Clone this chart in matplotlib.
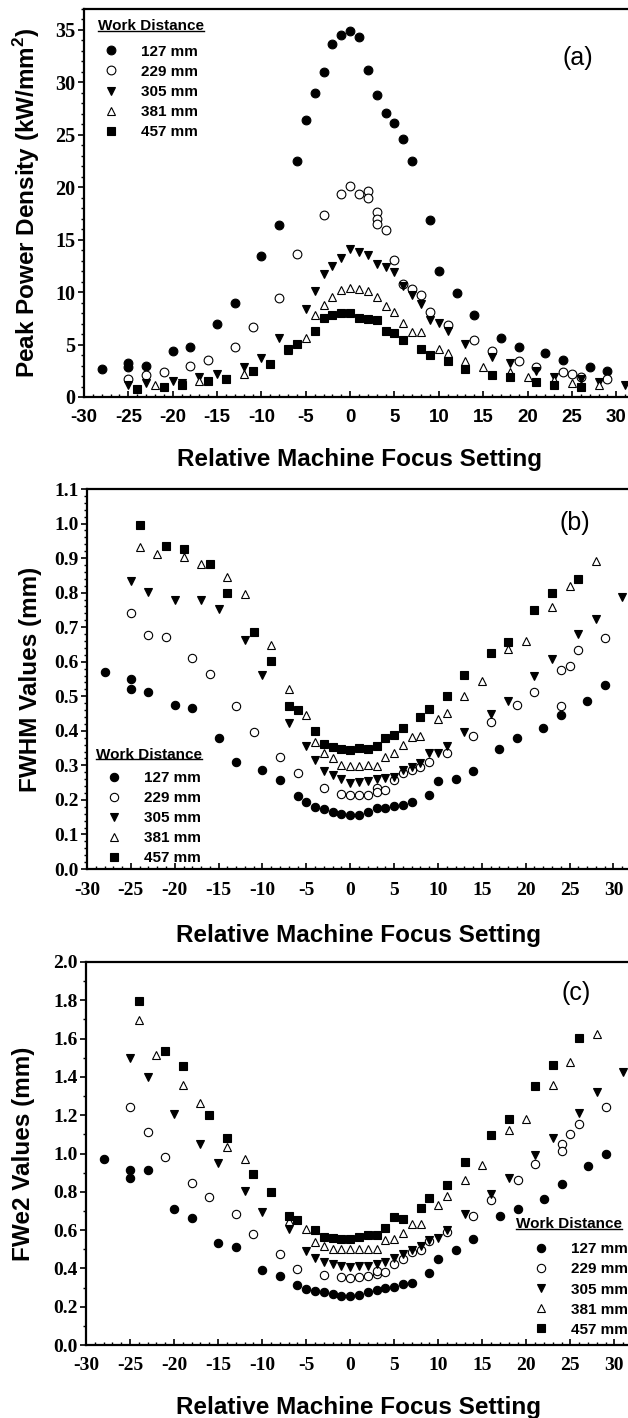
import matplotlib
matplotlib.use('Agg')
import numpy as np
import matplotlib.pyplot as plt
from matplotlib.lines import Line2D
from matplotlib.ticker import MultipleLocator

SANS = 'Liberation Sans'
SERIF = 'Liberation Serif'
plt.rcParams['mathtext.fontset'] = 'custom'
plt.rcParams['mathtext.rm'] = 'Liberation Sans:bold'
plt.rcParams['mathtext.bf'] = 'Liberation Sans:bold'

labels = ['127 mm', '229 mm', '305 mm', '381 mm', '457 mm']
x_ticks = list(range(-30, 31, 5))

# (a) peak power density, kW/mm^2
pd_127_x = [-28, -25, -25, -23, -20, -18, -15, -13, -10, -8, -6, -5, -4, -3, -2, -1, 0, 1, 2, 3, 4, 5, 6, 7, 9, 10, 12, 14, 17, 19, 22, 24, 27, 29]
pd_127_y = [2.7, 3.2, 2.9, 3.0, 4.35, 4.8, 7.0, 9.0, 13.4, 16.4, 22.5, 26.4, 29.0, 31.0, 33.7, 34.5, 34.9, 34.35, 31.2, 28.8, 27.1, 26.15, 24.6, 22.5, 16.9, 12.0, 9.9, 7.8, 5.65, 4.8, 4.15, 3.5, 2.9, 2.5]
pd_229_x = [-25, -23, -21, -18, -16, -13, -11, -8, -6, -3, -1, 0, 1, 2, 2, 3, 3, 3, 4, 5, 6, 7, 8, 9, 11, 14, 16, 19, 21, 24, 25, 26, 29]
pd_229_y = [1.7, 2.07, 2.4, 3.0, 3.5, 4.8, 6.7, 9.4, 13.6, 17.4, 19.4, 20.1, 19.4, 19.6, 19.0, 17.6, 17.0, 16.5, 15.9, 13.1, 10.8, 10.3, 9.7, 8.1, 6.9, 5.4, 4.35, 3.4, 2.9, 2.35, 2.15, 1.95, 1.7]
pd_305_x = [-25, -23, -20, -19, -17, -15, -14, -12, -10, -8, -5, -4, -3, -2, -1, 0, 1, 2, 3, 4, 5, 6, 7, 8, 9, 10, 11, 13, 16, 18, 21, 23, 26, 28, 31]
pd_305_y = [1.1, 1.3, 1.5, 1.3, 1.9, 2.15, 1.7, 2.9, 3.7, 5.6, 8.4, 10.1, 11.7, 12.5, 13.3, 14.1, 13.8, 13.5, 12.7, 12.4, 11.9, 10.6, 9.7, 8.9, 7.3, 7.1, 6.3, 5.05, 3.8, 3.2, 2.5, 1.9, 1.7, 1.4, 1.15]
pd_381_x = [-22, -17, -12, -7, -5, -4, -3, -2, -1, 0, 1, 2, 3, 4, 5, 6, 7, 8, 10, 11, 13, 15, 18, 20, 23, 25, 28]
pd_381_y = [1.15, 1.55, 2.2, 4.5, 5.6, 7.8, 8.8, 9.5, 10.2, 10.35, 10.3, 10.1, 9.55, 8.7, 8.1, 7.1, 6.2, 6.2, 4.6, 4.15, 3.45, 2.9, 2.4, 1.95, 1.6, 1.3, 1.1]
pd_457_x = [-24, -21, -19, -16, -14, -11, -9, -7, -6, -4, -3, -2, -1, 0, 1, 2, 3, 4, 5, 6, 8, 9, 11, 13, 16, 18, 21, 23, 26]
pd_457_y = [0.8, 1.0, 1.15, 1.55, 1.7, 2.5, 3.1, 4.6, 5.1, 6.3, 7.5, 7.8, 8.0, 8.0, 7.55, 7.4, 7.3, 6.3, 6.1, 5.45, 4.6, 4.0, 3.4, 2.7, 2.1, 1.9, 1.4, 1.15, 1.0]

# (b) FWHM, mm
fw_127_x = [-28, -25, -25, -23, -20, -18, -15, -13, -10, -8, -6, -5, -4, -3, -2, -1, 0, 1, 2, 3, 4, 5, 6, 7, 9, 10, 12, 14, 17, 19, 22, 24, 27, 29]
fw_127_y = [0.570, 0.551, 0.520, 0.511, 0.475, 0.465, 0.378, 0.310, 0.287, 0.258, 0.211, 0.195, 0.180, 0.173, 0.166, 0.159, 0.156, 0.157, 0.166, 0.176, 0.178, 0.183, 0.186, 0.193, 0.215, 0.254, 0.261, 0.283, 0.347, 0.379, 0.408, 0.447, 0.487, 0.534]
fw_229_x = [-25, -23, -21, -18, -16, -13, -11, -8, -6, -3, -1, 0, 1, 2, 3, 3, 4, 5, 6, 7, 8, 9, 11, 14, 16, 19, 21, 24, 24, 25, 26, 29]
fw_229_y = [0.742, 0.678, 0.671, 0.610, 0.565, 0.473, 0.397, 0.325, 0.279, 0.234, 0.218, 0.213, 0.215, 0.214, 0.234, 0.224, 0.229, 0.258, 0.277, 0.287, 0.294, 0.311, 0.335, 0.384, 0.426, 0.474, 0.512, 0.575, 0.471, 0.589, 0.633, 0.670]
fw_305_x = [-25, -23, -20, -17, -15, -12, -10, -7, -5, -4, -3, -2, -1, 0, 1, 2, 3, 4, 5, 6, 7, 8, 9, 10, 11, 13, 16, 18, 21, 23, 26, 28, 31]
fw_305_y = [0.834, 0.801, 0.778, 0.778, 0.752, 0.663, 0.563, 0.424, 0.355, 0.316, 0.283, 0.273, 0.261, 0.250, 0.252, 0.254, 0.261, 0.264, 0.267, 0.287, 0.294, 0.308, 0.337, 0.337, 0.357, 0.397, 0.450, 0.487, 0.560, 0.608, 0.679, 0.725, 0.788]
fw_381_x = [-24, -22, -19, -17, -14, -12, -9, -7, -5, -4, -3, -2, -1, 0, 1, 2, 3, 4, 5, 6, 7, 8, 10, 11, 13, 15, 18, 20, 23, 25, 28]
fw_381_y = [0.931, 0.912, 0.902, 0.882, 0.846, 0.795, 0.648, 0.522, 0.447, 0.367, 0.335, 0.321, 0.302, 0.298, 0.298, 0.302, 0.298, 0.325, 0.335, 0.359, 0.382, 0.384, 0.434, 0.453, 0.500, 0.544, 0.638, 0.660, 0.757, 0.818, 0.892]
fw_457_x = [-24, -21, -19, -16, -14, -11, -9, -7, -6, -4, -3, -2, -1, 0, 1, 2, 3, 4, 5, 6, 8, 9, 11, 13, 16, 18, 21, 23, 26]
fw_457_y = [0.997, 0.934, 0.926, 0.883, 0.799, 0.686, 0.602, 0.471, 0.461, 0.399, 0.362, 0.352, 0.347, 0.345, 0.349, 0.347, 0.355, 0.379, 0.389, 0.408, 0.440, 0.464, 0.500, 0.563, 0.624, 0.658, 0.750, 0.798, 0.839]

# (c) FWe2, mm
fe_127_x = [-28, -25, -25, -23, -20, -18, -15, -13, -10, -8, -6, -5, -4, -3, -2, -1, 0, 1, 2, 3, 4, 5, 6, 7, 9, 10, 12, 14, 17, 19, 22, 24, 27, 29]
fe_127_y = [0.969, 0.916, 0.872, 0.916, 0.712, 0.663, 0.534, 0.511, 0.393, 0.359, 0.315, 0.292, 0.284, 0.276, 0.265, 0.258, 0.254, 0.263, 0.275, 0.288, 0.298, 0.305, 0.316, 0.323, 0.375, 0.450, 0.494, 0.555, 0.675, 0.710, 0.764, 0.843, 0.933, 1.0]
fe_229_x = [-25, -23, -21, -18, -16, -13, -11, -8, -6, -3, -1, 0, 1, 2, 3, 3, 4, 5, 6, 7, 8, 9, 11, 14, 16, 19, 21, 24, 24, 25, 26, 29]
fe_229_y = [1.244, 1.113, 0.982, 0.848, 0.774, 0.686, 0.578, 0.473, 0.398, 0.363, 0.353, 0.352, 0.354, 0.362, 0.372, 0.385, 0.380, 0.424, 0.450, 0.485, 0.497, 0.542, 0.590, 0.672, 0.759, 0.860, 0.946, 1.052, 1.012, 1.101, 1.152, 1.244]
fe_305_x = [-25, -23, -20, -17, -15, -12, -10, -7, -5, -4, -3, -2, -1, 0, 1, 2, 3, 4, 5, 6, 7, 8, 9, 10, 11, 13, 16, 18, 21, 23, 26, 28, 31]
fe_305_y = [1.497, 1.398, 1.206, 1.052, 0.951, 0.802, 0.692, 0.605, 0.492, 0.456, 0.432, 0.424, 0.415, 0.406, 0.415, 0.415, 0.424, 0.432, 0.455, 0.473, 0.494, 0.515, 0.550, 0.560, 0.602, 0.682, 0.787, 0.870, 0.991, 1.079, 1.213, 1.323, 1.427]
fe_381_x = [-24, -22, -19, -17, -14, -12, -7, -5, -4, -3, -2, -1, 0, 1, 2, 3, 4, 5, 6, 7, 8, 10, 11, 13, 15, 18, 20, 23, 25, 28]
fe_381_y = [1.698, 1.515, 1.358, 1.265, 1.035, 0.969, 0.645, 0.607, 0.539, 0.516, 0.500, 0.500, 0.500, 0.500, 0.503, 0.503, 0.546, 0.555, 0.584, 0.634, 0.634, 0.729, 0.776, 0.860, 0.939, 1.122, 1.178, 1.358, 1.480, 1.625]
fe_457_x = [-24, -21, -19, -16, -14, -11, -9, -7, -6, -4, -3, -2, -1, 0, 1, 2, 3, 4, 5, 6, 8, 9, 11, 13, 16, 18, 21, 23, 26]
fe_457_y = [1.794, 1.537, 1.459, 1.200, 1.079, 0.895, 0.800, 0.672, 0.651, 0.598, 0.563, 0.560, 0.555, 0.555, 0.563, 0.572, 0.572, 0.613, 0.668, 0.660, 0.717, 0.770, 0.838, 0.956, 1.096, 1.178, 1.354, 1.462, 1.602]

# marker per work distance: filled circle, open circle, down tri, open up tri, square
marker_styles = [('o', 'black'), ('o', 'white'), ('v', 'black'), ('^', 'white'), ('s', 'black')]

tag_y = {'(a)': 0.875, '(b)': 0.91, '(c)': 0.92}


def underline_title(fig, ax, x, y, text):
    t = ax.text(x, y, text, transform=ax.transAxes, family=SANS,
                fontweight='bold', fontsize=11, ha='left', va='baseline')
    fig.canvas.draw()
    bb = t.get_window_extent()
    base = ax.transAxes.transform((x, y))[1] - 0.5
    W, H = fig.bbox.width, fig.bbox.height
    fig.add_artist(Line2D([bb.x0 / W, bb.x1 / W], [base / H, base / H],
                          color='black', lw=1.0))


def panel(fig, rect, series, ylim, ymajor, yminor, yfmt, ylabel, tag,
          xtick_family, ytick_sizes, leg_title_xy, leg_xy, ylab_x, xlab_y, ms):
    ax = fig.add_axes(rect)
    handles = []
    for (xs, ys), (mk, fc) in zip(series, marker_styles):
        h, = ax.plot(xs, ys, ls='none', marker=mk, ms=ms, mfc=fc, mec='black',
                     mew=0.8, clip_on=False, zorder=3)
        handles.append(h)
    ax.set_xlim(-30, 32)

    ax.set_xticks(x_ticks)
    ax.set_xticklabels([str(t) for t in x_ticks], family=xtick_family,
                       fontweight='bold', fontsize=ytick_sizes[0])
    ax.xaxis.set_minor_locator(MultipleLocator(1))
    yt = np.round(np.arange(ylim[0], ylim[1] + 1e-9, ymajor), 3)
    ax.set_yticks(yt)
    ax.set_yticklabels([yfmt % v for v in yt], family=SERIF,
                       fontweight='bold', fontsize=ytick_sizes[1])
    ax.yaxis.set_minor_locator(MultipleLocator(yminor))
    ax.set_ylim(*ylim)

    ax.tick_params(axis='x', which='major', direction='in', length=4, width=1.2, pad=9)
    ax.tick_params(axis='x', which='minor', direction='in', length=2.5, width=1)
    ax.tick_params(axis='y', which='major', direction='out', length=4, width=1.2, pad=2)
    ax.tick_params(axis='y', which='minor', direction='out', length=2, width=1)
    for s in ['left', 'bottom', 'top']:
        ax.spines[s].set_linewidth(1.6)
    ax.spines['right'].set_visible(False)

    ax.set_xlabel('Relative Machine Focus Setting', family=SANS,
                  fontweight='bold', fontsize=17.5)
    ax.xaxis.set_label_coords(0.5, xlab_y)
    ax.set_ylabel(ylabel, family=SANS, fontweight='bold', fontsize=17.5)
    ax.yaxis.set_label_coords(ylab_x, 0.5)

    ax.text(0.897, tag_y[tag], tag, transform=ax.transAxes, family=SANS,
            fontsize=18, ha='center', va='center')

    ax.legend(handles, labels, loc='upper left', bbox_to_anchor=leg_xy,
              frameon=False, borderpad=0, borderaxespad=0, handlelength=1.7,
              handletextpad=1.1, labelspacing=0.4, numpoints=1,
              prop={'family': SANS, 'weight': 'bold', 'size': 11})
    underline_title(fig, ax, leg_title_xy[0], leg_title_xy[1], 'Work Distance')
    return ax


def main():
    fig = plt.figure(figsize=(6.28, 14.18), dpi=100)

    panel(fig, [84 / 628, 1 - 397 / 1418, 550 / 628, 388 / 1418],
          [(pd_127_x, pd_127_y), (pd_229_x, pd_229_y), (pd_305_x, pd_305_y),
           (pd_381_x, pd_381_y), (pd_457_x, pd_457_y)],
          (0, 37), 5, 1, '%d', r'Peak Power Density (kW/mm$^{2}$)', '(a)',
          SANS, (13.5, 14.5), (0.0255, 0.945), (0.0255, 0.908), -0.076, -0.132, 6.3)

    panel(fig, [87 / 628, 1 - 869 / 1418, 544 / 628, 380 / 1418],
          [(fw_127_x, fw_127_y), (fw_229_x, fw_229_y), (fw_305_x, fw_305_y),
           (fw_381_x, fw_381_y), (fw_457_x, fw_457_y)],
          (0, 1.1), 0.1, 0.02, '%.1f', 'FWHM Values (mm)', '(b)',
          SERIF, (14, 14), (0.0165, 0.29), (0.026, 0.258), -0.083, -0.145, 6)

    panel(fig, [86 / 628, 1 - 1345 / 1418, 546 / 628, 383 / 1418],
          [(fe_127_x, fe_127_y), (fe_229_x, fe_229_y), (fe_305_x, fe_305_y),
           (fe_381_x, fe_381_y), (fe_457_x, fe_457_y)],
          (0, 2.0), 0.2, 0.1, '%.1f', 'FWe2 Values (mm)', '(c)',
          SERIF, (14, 14), (0.788, 0.305), (0.81, 0.268), -0.093, -0.132, 6)

    fig.savefig('out.png', dpi=100)


if __name__ == '__main__':
    main()
